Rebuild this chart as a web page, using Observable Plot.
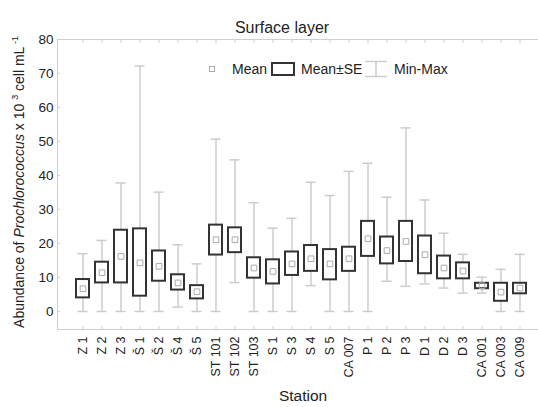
<!DOCTYPE html>
<html><head><meta charset="utf-8">
<script src="https://cdn.jsdelivr.net/npm/d3@7"></script>
<script src="https://cdn.jsdelivr.net/npm/@observablehq/plot@0.6"></script>
<style>
body{margin:0;background:#fff;overflow:hidden}
svg{font-family:"Liberation Sans",Arial,sans-serif}
</style>
</head><body><div id="chart"></div>
<script>
const stations = ["Z 1","Z 2","Z 3","Š 1","Š 2","Š 4","Š 5","ST 101","ST 102","ST 103","S 1","S 3","S 4","S 5","CA 007","P 1","P 2","P 3","D 1","D 2","D 3","CA 001","CA 003","CA 009"];
const minVals = [0,0,0,0,0,1.3,0,0,8.5,0,0,0,7.6,0,0,0,8.9,7.4,8.1,6.9,5.4,5.4,0,0];
const maxVals = [17.0,20.9,37.8,72.2,35.1,19.6,14.0,50.7,44.6,32.0,24.5,27.4,38.0,34.1,41.2,43.6,33.6,54.0,32.8,23.0,16.8,10.1,12.4,16.8];
const seLow = [4.0,8.4,8.4,4.5,8.9,6.3,3.7,16.6,17.3,9.8,8.1,10.6,11.8,9.3,11.8,16.2,14.0,14.7,11.1,9.6,9.6,6.7,3.0,5.2];
const seHigh = [9.4,14.5,23.9,24.3,17.8,10.8,7.6,25.4,24.6,15.8,15.2,17.5,19.4,18.2,18.9,26.5,21.9,26.5,22.2,16.3,14.3,8.3,8.3,8.3];
const means = [6.7,11.4,16.2,14.3,13.3,8.4,5.8,21.1,21.1,12.8,11.8,14.0,15.5,14.0,15.5,21.4,17.9,20.6,16.7,12.8,11.9,7.6,5.7,6.9];
const yTicks = [0,10,20,30,40,50,60,70,80];

const data = stations.map((s,i)=>({station:s,min:minVals[i],max:maxVals[i],lo:seLow[i],hi:seHigh[i],mean:means[i]}));

const frameColor = "#cfcfcf";
const plot = Plot.plot({
  width:538, height:407,
  marginLeft:57, marginRight:-8, marginTop:39, marginBottom:78,
  style:{fontFamily:"'Liberation Sans',Arial,sans-serif", fontSize:"12px", color:"#222", background:"#fff", overflow:"hidden"},
  x:{type:"band", domain:stations, range:[67.26,534.74], paddingInner:0.23, paddingOuter:0.115, label:null},
  y:{domain:[-5.3,80], label:null},
  marks:[
    Plot.frame({stroke:frameColor}),
    Plot.axisY(yTicks,{tickSize:-3, tickPadding:7, stroke:frameColor, fill:"#222", fontSize:13.5, label:null}),
    Plot.axisX({anchor:"bottom", tickSize:-3, tickPadding:10, tickRotate:-90, stroke:frameColor, fill:"#222", fontSize:12.5, label:null}),
    Plot.axisX({anchor:"top", tickSize:-3, tickFormat:()=>"", stroke:frameColor, label:null}),
    Plot.ruleX(data,{x:"station", y1:"min", y2:"max", stroke:"#cccccc", strokeWidth:1.5}),
    Plot.tickY(data,{x:"station", y:"min", stroke:"#cccccc", strokeWidth:1.5, insetLeft:2.5, insetRight:2.5}),
    Plot.tickY(data,{x:"station", y:"max", stroke:"#cccccc", strokeWidth:1.5, insetLeft:2.5, insetRight:2.5}),
    Plot.barY(data,{x:"station", y1:"lo", y2:"hi", fill:"white", stroke:"#333", strokeWidth:2, insetLeft:1, insetRight:1}),
    Plot.dot(data,{x:"station", y:"mean", symbol:"square", r:3.2, stroke:"#aaaaaa", strokeWidth:1, fill:"none"}),
    Plot.text(["Surface layer"],{frameAnchor:"top", dy:-18, dx:-20, fontSize:16, fill:"#222"}),
    Plot.text(["Station"],{frameAnchor:"bottom", dy:71, dx:1, fontSize:15.5, fill:"#222"})
  ]
});
document.getElementById("chart").appendChild(plot);

const svg = d3.select(plot);
// y-axis label
const yl = svg.append("text")
  .attr("transform","translate(24,182) rotate(-90)")
  .attr("text-anchor","middle")
  .attr("font-size",14).attr("fill","#222");
yl.append("tspan").text("Abundance of ");
yl.append("tspan").attr("font-style","italic").text("Prochlorococcus");
yl.append("tspan").text(" x 10 ");
yl.append("tspan").attr("font-size",9).attr("dy",-6).text("3");
yl.append("tspan").attr("dy",6).text(" cell mL");
yl.append("tspan").attr("font-size",9).attr("dy",-6).text(" -1");

// legend
const lg = svg.append("g").attr("font-size",14).attr("fill","#222").attr("text-anchor","start");
lg.append("rect").attr("x",209.5).attr("y",66.5).attr("width",5).attr("height",5).attr("fill","none").attr("stroke","#aaa");
lg.append("text").attr("x",232).attr("y",74).text("Mean");
lg.append("rect").attr("x",272).attr("y",63).attr("width",22).attr("height",12).attr("fill","none").attr("stroke","#333").attr("stroke-width",2);
lg.append("text").attr("x",301).attr("y",74).text("Mean±SE");
lg.append("line").attr("x1",365).attr("x2",387).attr("y1",61.5).attr("y2",61.5).attr("stroke","#ccc").attr("stroke-width",1.5);
lg.append("line").attr("x1",365).attr("x2",387).attr("y1",76.5).attr("y2",76.5).attr("stroke","#ccc").attr("stroke-width",1.5);
lg.append("line").attr("x1",376).attr("x2",376).attr("y1",61.5).attr("y2",76.5).attr("stroke","#ccc").attr("stroke-width",1.5);
lg.append("text").attr("x",394).attr("y",74).text("Min-Max");
</script>
</body></html>
